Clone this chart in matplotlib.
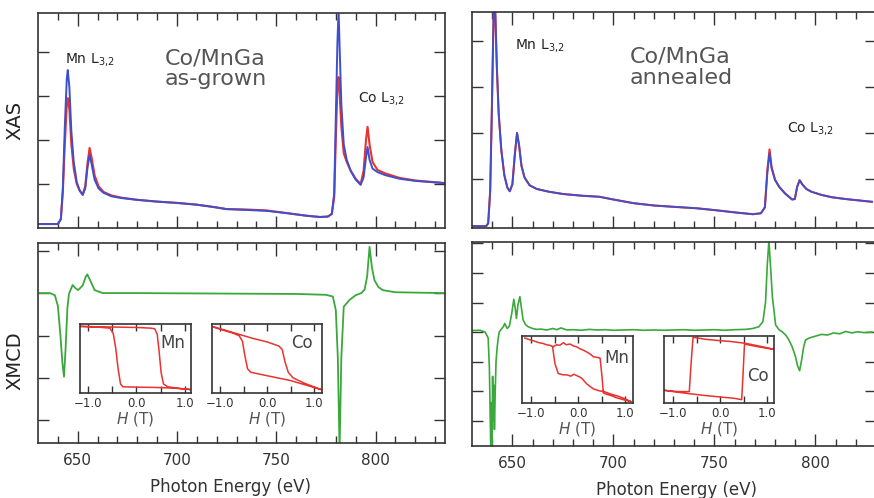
import numpy as np
import matplotlib
matplotlib.use('Agg')
import matplotlib.pyplot as plt

# ---- XAS, as-grown (left top) ----
ev_grown = [630, 640, 641.5, 642.5, 643.5, 644.5, 645, 645.8, 646.8, 648,
            649.5, 651, 652.5, 653.8, 655, 656, 657, 658.5, 660.5, 663,
            667, 672, 680, 690, 700, 710, 718, 725, 735, 745,
            755, 765, 772, 776, 778, 779.2, 780, 780.8, 781.4, 782,
            782.8, 784, 785.5, 787.5, 790, 792.5, 794, 795.2, 796, 797,
            798.5, 801, 805, 812, 820, 835]
xas_grown_minus = [0.09, 0.09, 0.2, 0.9, 2.3, 3.4, 3.59, 3.2, 2.2, 1.5,
                   1.05, 0.85, 0.75, 0.9, 1.4, 1.66, 1.45, 1.1, 0.9, 0.8,
                   0.72, 0.68, 0.64, 0.6, 0.57, 0.53, 0.48, 0.43, 0.41, 0.39,
                   0.34, 0.28, 0.25, 0.26, 0.32, 0.8, 2.5, 4.2, 4.95, 4.0,
                   2.8, 1.9, 1.55, 1.3, 1.1, 0.98, 1.15, 1.6, 1.84, 1.55,
                   1.35, 1.27, 1.2, 1.12, 1.07, 1.02]
xas_grown_plus = [0.09, 0.09, 0.2, 0.8, 1.9, 2.8, 2.95, 2.7, 1.9, 1.35,
                  1.0, 0.85, 0.76, 0.95, 1.5, 1.82, 1.6, 1.2, 0.95, 0.82,
                  0.74, 0.69, 0.64, 0.6, 0.57, 0.53, 0.48, 0.43, 0.42, 0.4,
                  0.34, 0.28, 0.25, 0.26, 0.32, 0.7, 2.0, 3.2, 3.43, 3.0,
                  2.3, 1.7, 1.5, 1.3, 1.12, 1.0, 1.3, 2.0, 2.3, 1.9,
                  1.5, 1.32, 1.24, 1.14, 1.08, 1.02]

# ---- XAS, annealed (right top) ----
ev_ann = [630, 637, 638, 639, 639.8, 640.5, 641, 641.6, 642.3, 643.2,
          644.5, 646, 647.5, 648.7, 650, 651.2, 652.3, 653.3, 654.5, 656,
          658.5, 662, 668, 675, 685, 693, 700, 710, 720, 730,
          741, 750, 760, 769, 773, 775, 776.2, 777.3, 778.3, 780,
          782, 785, 788.5, 789.8, 791, 792.2, 793.5, 795.5, 798, 803,
          808, 815, 828]
xas_ann_minus = [0.04, 0.04, 0.1, 0.8, 2.5, 4.2, 5.2, 4.6, 3.5, 2.5,
                 1.7, 1.15, 0.88, 0.8, 0.95, 1.6, 2.07, 1.8, 1.35, 1.1,
                 0.93, 0.85, 0.79, 0.74, 0.70, 0.68, 0.62, 0.54, 0.49, 0.46,
                 0.43, 0.39, 0.34, 0.30, 0.32, 0.45, 1.2, 1.63, 1.3, 1.05,
                 0.9, 0.75, 0.62, 0.63, 0.9, 1.04, 0.95, 0.85, 0.79, 0.72,
                 0.67, 0.63, 0.57]
xas_ann_plus = [0.04, 0.04, 0.1, 0.8, 2.5, 4.2, 5.2, 4.6, 3.5, 2.5,
                1.7, 1.15, 0.88, 0.8, 0.95, 1.6, 2.07, 1.8, 1.35, 1.1,
                0.93, 0.85, 0.79, 0.74, 0.70, 0.68, 0.62, 0.54, 0.49, 0.46,
                0.43, 0.39, 0.34, 0.30, 0.32, 0.45, 1.25, 1.71, 1.33, 1.05,
                0.9, 0.75, 0.62, 0.63, 0.9, 1.04, 0.95, 0.85, 0.79, 0.72,
                0.67, 0.63, 0.57]

# ---- XMCD, as-grown (left bottom) ----
ev_xmcd_grown = [630, 636, 638.5, 640, 641.3, 642.3, 643.1, 643.9, 644.8, 645.6,
                 647.4, 648.8, 650.2, 652.5, 654, 654.8, 656.3, 658.5, 662.7, 680,
                 720, 760, 775, 778.5, 780, 781, 781.9, 782.8, 784, 786.9,
                 790, 792.8, 794.5, 795.8, 797, 798.2, 799.5, 801.5, 803.7, 810,
                 835]
xmcd_grown = [0.0, 0.0, -0.05, -0.3, -1.0, -1.65, -1.97, -1.3, -0.35, -0.02,
              0.19, 0.12, 0.07, 0.18, 0.38, 0.44, 0.3, 0.07, 0.0, 0.0,
              -0.01, -0.02, -0.04, -0.08, -0.4, -1.5, -3.7, -1.5, -0.32, -0.16,
              -0.05, 0.0, 0.08, 0.4, 1.09, 0.6, 0.3, 0.14, 0.07, 0.02,
              0.0]

# ---- XMCD, annealed (right bottom) ----
ev_xmcd_ann = [630, 634, 636.5, 638, 638.6, 639.0, 639.3, 639.6, 639.9, 640.2,
               640.5, 640.8, 641.1, 641.5, 641.9, 642.4, 643.0, 643.5, 644.5, 645.5,
               646.2, 647.4, 648.5, 649.6, 650.7, 651.4, 652.0, 652.7, 653.7, 654.5,
               655.3, 656.5, 657.8, 660, 662, 664, 667, 670, 672, 674,
               677, 680, 684, 688, 692, 696, 700, 705, 710, 715,
               720, 725, 730, 735, 740, 745, 750, 755, 760, 765.5,
               769, 772, 774, 775.3, 776.2, 777, 777.8, 778.7, 780.3, 782,
               783.6, 785.5, 786.9, 788.5, 790, 791.2, 792.2, 793.3, 794.2, 795.1,
               797, 800, 803, 806, 809, 812, 815, 818, 821, 824,
               828]
xmcd_ann = [0.05, 0.06, 0.0, -0.2, -1.2, -2.8, -4.0, -2.4, -4.0, -1.5,
            -3.0, -1.8, -3.3, -2.0, -1.0, -0.55, -0.2, 0.0, 0.1, 0.18,
            0.29, 0.12, 0.2, 0.6, 1.11, 0.8, 0.46, 0.9, 1.2, 0.8,
            0.41, 0.25, 0.18, 0.12, 0.09, 0.1, 0.07, 0.12, 0.08, 0.14,
            0.07, 0.08, 0.06, 0.09, 0.07, 0.08, 0.06, 0.07, 0.08, 0.06,
            0.07, 0.06, 0.07, 0.08, 0.06, 0.07, 0.08, 0.06, 0.08, 0.09,
            0.12, 0.18, 0.35, 1.0, 2.3, 3.1, 2.2, 1.2, 0.24, 0.08,
            0.01, -0.12, -0.27, -0.5, -0.8, -1.15, -1.31, -0.9, -0.5, -0.27,
            -0.2, -0.14, -0.08, -0.1, -0.03, -0.06, 0.02, -0.03, 0.01, -0.02,
            0.0]

# ---- hysteresis loops (insets) ----
mn_grown_h = [-1.15, -0.8, -0.4, 0.0, 0.3, 0.38, 0.43, 0.47, 0.51, 0.56, 0.65, 0.9, 1.12,
              0.8, 0.4, 0.0, -0.28, -0.33, -0.38, -0.43, -0.48, -0.55, -0.8, -1.15]
mn_grown_m = [0.965, 0.96, 0.955, 0.95, 0.94, 0.93, 0.85, 0.6, 0.3, 0.13, 0.09, 0.065, 0.05,
              0.07, 0.08, 0.085, 0.09, 0.13, 0.35, 0.65, 0.86, 0.94, 0.955, 0.965]
co_grown_h = [-1.15, -0.7, -0.3, 0.0, 0.25, 0.32, 0.38, 0.45, 0.55, 0.8, 1.15,
              0.8, 0.5, 0.0, -0.35, -0.42, -0.48, -0.53, -0.6, -0.7, -1.15]
co_grown_m = [0.96, 0.87, 0.79, 0.74, 0.68, 0.63, 0.45, 0.30, 0.22, 0.14, 0.05,
              0.12, 0.18, 0.25, 0.30, 0.35, 0.55, 0.75, 0.83, 0.86, 0.955]
mn_ann_h = [-1.14, -1.02, -0.92, -0.84, -0.76, -0.68, -0.6, -0.54, -0.46, -0.4,
            -0.32, -0.26, -0.18, -0.1, -0.04, 0.03, 0.1, 0.18, 0.25, 0.32,
            0.4, 0.46, 0.5, 0.53, 0.6, 0.7, 0.8, 0.9, 1.0, 1.12,
            1.0, 0.85, 0.7, 0.55, 0.45, 0.32, 0.24, 0.17, 0.12, 0.07,
            0.02, -0.04, -0.1, -0.16, -0.24, -0.32, -0.38, -0.43, -0.5, -0.55]
mn_ann_m = [0.97, 0.94, 0.92, 0.90, 0.89, 0.87, 0.86, 0.84, 0.87, 0.86,
            0.90, 0.87, 0.88, 0.85, 0.84, 0.81, 0.79, 0.76, 0.73, 0.69,
            0.68, 0.67, 0.4, 0.15, 0.13, 0.11, 0.08, 0.06, 0.04, 0.02,
            0.06, 0.1, 0.13, 0.17, 0.18, 0.21, 0.25, 0.29, 0.33, 0.37,
            0.39, 0.41, 0.43, 0.40, 0.42, 0.42, 0.43, 0.44, 0.59, 0.84]
co_ann_h = [1.15, 0.9, 0.55, 0.2, 0.0, -0.3, -0.58, -0.62, -0.66, -0.9, -1.2,
            -0.9, -0.67, -0.3, 0.0, 0.3, 0.46, 0.49, 0.52, 0.8, 1.15]
co_ann_m = [0.80, 0.84, 0.89, 0.92, 0.93, 0.95, 0.98, 0.6, 0.17, 0.17, 0.19,
            0.16, 0.14, 0.11, 0.09, 0.07, 0.05, 0.45, 0.88, 0.84, 0.80]

W, H = 874, 498
BLUE, RED, GREEN = '#3f4fcc', '#e8332e', '#3aa83a'
INK = '#333333'


def px_rect(x0, y0, x1, y1):
    return [x0 / W, 1 - y1 / H, (x1 - x0) / W, (y1 - y0) / H]


def style_main(ax, xlim, ylim, yticks, show_x):
    ax.set_xlim(xlim)
    ax.set_ylim(ylim)
    ax.set_xticks([650, 700, 750, 800])
    ax.set_xticks(np.arange(640, 840, 10), minor=True)
    ax.set_yticks(yticks)
    ax.tick_params(which='both', direction='in', top=True, right=True,
                   color=INK, width=1.0)
    ax.tick_params(axis='x', which='major', length=9)
    ax.tick_params(axis='x', which='minor', length=5)
    ax.tick_params(axis='y', length=8, labelleft=False)
    ax.tick_params(axis='x', labelbottom=show_x, labelsize=11, pad=7, labelcolor=INK)
    for sp in ax.spines.values():
        sp.set_color(INK)
        sp.set_linewidth(1.2)


def style_inset(ax, xlim):
    ax.set_xlim(xlim)
    ax.set_ylim(0, 1)
    ax.set_xticks([-1.0, 0.0, 1.0])
    ax.set_xticks([-0.5, 0.5], minor=True)
    ax.set_xticklabels(['\u22121.0', '0.0', '1.0'])
    ax.set_yticks([])
    ax.tick_params(which='both', direction='in', top=True, length=5,
                   color=INK, width=1.0, labelsize=8.5, pad=3, labelcolor=INK)
    ax.set_xlabel('$H$ (T)', fontsize=11, color='#555555', labelpad=0)
    for sp in ax.spines.values():
        sp.set_color(INK)
        sp.set_linewidth(1.2)


fig = plt.figure(figsize=(W / 100, H / 100), dpi=100)

ax_tl = fig.add_axes(px_rect(38, 13, 445, 228))
ax_tr = fig.add_axes(px_rect(472, 12, 876, 228))
ax_bl = fig.add_axes(px_rect(38, 243, 445, 443))
ax_br = fig.add_axes(px_rect(472, 242, 876, 446))

ax_tl.plot(ev_grown, xas_grown_plus, color=RED, lw=1.5)
ax_tl.plot(ev_grown, xas_grown_minus, color=BLUE, lw=1.4)
style_main(ax_tl, (630, 835), (0, 4.886), [1, 2, 3, 4], False)

ax_tr.plot(ev_ann, xas_ann_plus, color=RED, lw=1.5)
ax_tr.plot(ev_ann, xas_ann_minus, color=BLUE, lw=1.3)
style_main(ax_tr, (630, 829), (0, 4.7), [1.07, 2.07, 3.07, 4.07], False)

ax_bl.plot(ev_xmcd_grown, xmcd_grown, color=GREEN, lw=1.3)
style_main(ax_bl, (630, 835), (-3.53, 1.18), [-3, -2, -1, 0, 1], True)

ax_br.plot(ev_xmcd_ann, xmcd_ann, color=GREEN, lw=1.2)
style_main(ax_br, (630, 829), (-3.86, 3.05), [-3, -2, -1, 0, 1, 2, 3], True)

# insets with element-specific hysteresis loops
insets = [
    (px_rect(80, 324, 191, 393), (-1.17, 1.13), mn_grown_h, mn_grown_m, 'Mn', (0.84, 0.72)),
    (px_rect(212, 324, 322, 393), (-1.18, 1.17), co_grown_h, co_grown_m, 'Co', (0.82, 0.72)),
    (px_rect(522, 336, 633, 403), (-1.2, 1.16), mn_ann_h, mn_ann_m, 'Mn', (0.85, 0.67)),
    (px_rect(664, 336, 774, 403), (-1.2, 1.15), co_ann_h, co_ann_m, 'Co', (0.85, 0.40)),
]
for rect, xl, hh, mm, name, pos in insets:
    ins = fig.add_axes(rect)
    ins.plot(hh, mm, color=RED, lw=1.1)
    style_inset(ins, xl)
    ins.text(pos[0], pos[1], name, transform=ins.transAxes, fontsize=12,
             color='#444444', ha='center', va='center')

# annotations
fig.text(165 / W, 1 - 48 / H, 'Co/MnGa\nas-grown', fontsize=16, color='#555555',
         ha='left', va='top', linespacing=1.05)
fig.text(630 / W, 1 - 47 / H, 'Co/MnGa\nannealed', fontsize=16, color='#555555',
         ha='left', va='top', linespacing=1.05)
fig.text(65 / W, 1 - 63 / H, 'Mn L$_{3{,}2}$', fontsize=10, color='#222222')
fig.text(358 / W, 1 - 102 / H, 'Co L$_{3{,}2}$', fontsize=10, color='#222222')
fig.text(515 / W, 1 - 49 / H, 'Mn L$_{3{,}2}$', fontsize=10, color='#222222')
fig.text(787 / W, 1 - 132 / H, 'Co L$_{3{,}2}$', fontsize=10, color='#222222')

fig.text(15 / W, 1 - 120 / H, 'XAS', rotation=90, fontsize=14, color='#222222',
         ha='center', va='center')
fig.text(15 / W, 1 - 361 / H, 'XMCD', rotation=90, fontsize=14, color='#222222',
         ha='center', va='center')
fig.text(230 / W, 1 - 487 / H, 'Photon Energy (eV)', fontsize=12, color=INK,
         ha='center', va='center')
fig.text(677 / W, 1 - 490 / H, 'Photon Energy (eV)', fontsize=12, color=INK,
         ha='center', va='center')

fig.savefig('out.png', dpi=100)
